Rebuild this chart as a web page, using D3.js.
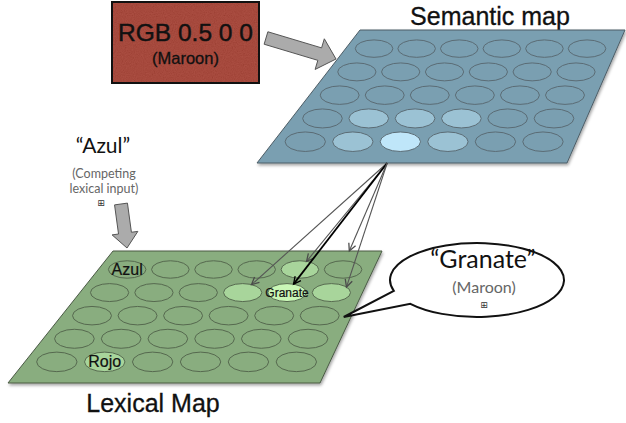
<!DOCTYPE html>
<html><head><meta charset="utf-8">
<script src="https://cdn.jsdelivr.net/npm/d3@7"></script>
<style>html,body{margin:0;padding:0;background:#fff;}svg{display:block}</style>
</head><body><svg id="c" width="626" height="423"></svg>
<script>
// ---------- data ----------
const rowIndex = [0, 1, 2, 3, 4];
const colIndex = [0, 1, 2, 3, 4, 5];
// activation level per cell: 0 = resting, 1 = partly active, 2 = most active
const semanticActivation = [
  [0, 0, 0, 0, 0, 0],
  [0, 0, 0, 0, 0, 0],
  [0, 0, 0, 0, 0, 0],
  [0, 1, 1, 1, 0, 0],
  [0, 1, 2, 1, 0, 0]
];
const lexicalActivation = [
  [0, 0, 0, 0, 1, 0],
  [0, 0, 0, 1, 2, 1],
  [0, 0, 0, 0, 0, 0],
  [0, 0, 0, 0, 0, 0],
  [0, 1, 0, 0, 0, 0]
];
const lexicalLabels = [
  { row: 0, col: 0, text: "Azul", big: true },
  { row: 1, col: 4, text: "Granate", big: false },
  { row: 4, col: 1, text: "Rojo", big: true }
];
const connections = [
  { row: 1, col: 3, strong: false },
  { row: 0, col: 4, strong: false },
  { row: 1, col: 4, strong: true },
  { row: 1, col: 5, strong: false, stopAtEdge: true },
  { row: 1, col: 5, strong: false, anchor: -38 }
];
const inputText = ["RGB 0.5 0 0", "(Maroon)"];
const competitorText = ["\u201CAzul\u201D", "(Competing", "lexical input)"];
const outputText = ["\u201CGranate\u201D", "(Maroon)"];
const titles = { semantic: "Semantic map", lexical: "Lexical Map" };

// ---------- layout ----------
const semQuad = { tl: [360, 30], tr: [625, 30], br: [567, 163], bl: [257, 163] };
const lexQuad = { tl: [113, 251], tr: [382, 251], br: [320, 383], bl: [8, 383] };
const vScale = d3.scaleLinear().domain([0, 4]).range([0.14, 0.84]);
const uScale = d3.scaleLinear().domain([0, 5]).range([0.105, 0.89]);

const lerp = (a, b, t) => [a[0] + (b[0] - a[0]) * t, a[1] + (b[1] - a[1]) * t];
function quadPoint(q, u, v) { return lerp(lerp(q.tl, q.tr, u), lerp(q.bl, q.br, u), v); }
function cell(q, r, c) {
  const v = vScale(r), u = uScale(c);
  const p = quadPoint(q, u, v);
  return { x: p[0], y: p[1], rx: 18.5 + 2 * v, ry: 8.5 + 1.5 * v };
}

const svg = d3.select("#c");
const defs = svg.append("defs");

const nf = defs.append("filter").attr("id", "noise").attr("x", 0).attr("y", 0).attr("width", "100%").attr("height", "100%");
nf.append("feTurbulence").attr("type", "fractalNoise").attr("baseFrequency", 0.9).attr("numOctaves", 2).attr("seed", 5).attr("result", "t");
nf.append("feColorMatrix").attr("in", "t").attr("type", "matrix")
  .attr("values", "0.6 0.6 0 0 -0.1  0.6 0.6 0 0 -0.1  0.6 0.6 0 0 -0.1  0 0 0 0 1").attr("result", "g");
nf.append("feComposite").attr("in", "g").attr("in2", "SourceGraphic").attr("operator", "in");

const sh = defs.append("filter").attr("id", "shadow").attr("x", "-10%").attr("y", "-10%").attr("width", "120%").attr("height", "130%");
sh.append("feDropShadow").attr("dx", 1).attr("dy", 2).attr("stdDeviation", 1.5).attr("flood-color", "#000").attr("flood-opacity", 0.35);

function marker(id, color, size) {
  defs.append("marker").attr("id", id).attr("viewBox", "-10 -6 12 12").attr("refX", 0).attr("refY", 0)
    .attr("markerWidth", size).attr("markerHeight", size).attr("markerUnits", "userSpaceOnUse").attr("orient", "auto")
    .append("path").attr("d", "M-8,-4 L0,0 L-8,4").attr("fill", "none").attr("stroke", color).attr("stroke-width", 1.4);
}
marker("mGray", "#4a4a4a", 11);
marker("mBlack", "#000", 11);

function blockArrow(tail, tip, sw, hw, hl) {
  const dx = tip[0] - tail[0], dy = tip[1] - tail[1], L = Math.hypot(dx, dy);
  const ux = dx / L, uy = dy / L, px = -uy, py = ux;
  const b = [tip[0] - ux * hl, tip[1] - uy * hl];
  const p = (o, s) => [o[0] + px * s, o[1] + py * s];
  return [p(tail, sw), p(b, sw), p(b, hw), tip, p(b, -hw), p(b, -sw), p(tail, -sw)];
}
const quadPath = q => "M" + [q.tl, q.tr, q.br, q.bl].map(p => p.join(",")).join("L") + "Z";
const helv = "Liberation Sans, Arial, sans-serif";
const heavy = s => s.attr("stroke", "#111").attr("stroke-width", 0.45);

// ---------- input box ----------
const box = { x: 112, y: 2, w: 147, h: 81 };
svg.append("rect").attr("x", box.x).attr("y", box.y).attr("width", box.w).attr("height", box.h).attr("fill", "#a3392b");
svg.append("rect").attr("x", box.x).attr("y", box.y).attr("width", box.w).attr("height", box.h).attr("fill", "#fff")
  .attr("filter", "url(#noise)").attr("opacity", 0.12);
svg.append("rect").attr("x", box.x).attr("y", box.y).attr("width", box.w).attr("height", box.h).attr("fill", "none")
  .attr("stroke", "#111").attr("stroke-width", 2);
heavy(svg.append("text").attr("x", box.x + box.w / 2).attr("y", 41).attr("text-anchor", "middle")
  .attr("font-family", helv).attr("font-size", 24.5).attr("fill", "#111").text(inputText[0]));
heavy(svg.append("text").attr("x", box.x + box.w / 2).attr("y", 64).attr("text-anchor", "middle")
  .attr("font-family", helv).attr("font-size", 16.5).attr("fill", "#111").text(inputText[1])).attr("stroke-width", 0.3);

// ---------- block arrows ----------
const arrowStyle = s => s.attr("fill", "#ababab").attr("stroke", "#555").attr("stroke-width", 1).attr("stroke-linejoin", "miter");
arrowStyle(svg.append("polygon").attr("points", blockArrow([266, 38], [336, 59], 6.5, 16, 17).join(" ")));
arrowStyle(svg.append("polygon").attr("points", blockArrow([121, 204], [127, 248], 6.5, 13, 15).join(" ")));

// ---------- semantic map ----------
heavy(svg.append("text").attr("x", 490).attr("y", 25).attr("text-anchor", "middle")
  .attr("font-family", helv).attr("font-size", 25).attr("fill", "#111").text(titles.semantic)).attr("stroke-width", 0.3);
svg.append("path").attr("d", quadPath(semQuad)).attr("fill", "#7a9fb1").attr("stroke", "#4d5d66").attr("stroke-width", 1)
  .attr("filter", "url(#shadow)");
const semFill = ["#7a9fb1", "#9bc2d4", "#bfe6f9"];
const semCells = [];
rowIndex.forEach(r => colIndex.forEach(c => semCells.push({ r, c, a: semanticActivation[r][c] })));
svg.append("g").selectAll("ellipse").data(semCells).join("ellipse")
  .each(function (d) { const e = cell(semQuad, d.r, d.c); d3.select(this).attr("cx", e.x).attr("cy", e.y).attr("rx", e.rx).attr("ry", e.ry); })
  .attr("fill", d => semFill[d.a]).attr("stroke", "#5b6c75").attr("stroke-width", 1);

// ---------- lexical map ----------
svg.append("path").attr("d", quadPath(lexQuad)).attr("fill", "#89ad7f").attr("stroke", "#4a5a45").attr("stroke-width", 1)
  .attr("filter", "url(#shadow)");
const lexFill = ["#89ad7f", "#a8d59b", "#c9f7b6"];
const lexCells = [];
rowIndex.forEach(r => colIndex.forEach(c => lexCells.push({ r, c, a: lexicalActivation[r][c] })));
svg.append("g").selectAll("ellipse").data(lexCells).join("ellipse")
  .each(function (d) { const e = cell(lexQuad, d.r, d.c); d3.select(this).attr("cx", e.x).attr("cy", e.y).attr("rx", e.rx).attr("ry", e.ry); })
  .attr("fill", d => lexFill[d.a]).attr("stroke", "#56694f").attr("stroke-width", 1);
svg.append("g").selectAll("text").data(lexicalLabels).join("text")
  .each(function (d) { const e = cell(lexQuad, d.row, d.col); d3.select(this).attr("x", e.x).attr("y", e.y + (d.big ? 5.5 : 4)); })
  .attr("text-anchor", "middle").attr("font-family", helv)
  .attr("font-size", d => d.big ? 16 : 12).attr("fill", "#111").attr("stroke", "#111").attr("stroke-width", 0.2).text(d => d.text);
heavy(svg.append("text").attr("x", 153).attr("y", 412).attr("text-anchor", "middle")
  .attr("font-family", helv).attr("font-size", 25).attr("fill", "#111").text(titles.lexical)).attr("stroke-width", 0.3);

// ---------- connections ----------
const src = quadPoint(semQuad, 0.42, 1);
svg.append("g").selectAll("line").data(connections).join("line")
  .each(function (d) {
    const e = cell(lexQuad, d.row, d.col);
    let end;
    if (d.anchor !== undefined) {
      const a = d.anchor * Math.PI / 180; end = [e.x + e.rx * Math.cos(a), e.y + e.ry * Math.sin(a)];
    } else {
      const dx = e.x - src[0], dy = e.y - src[1];
      const t = 1 / Math.sqrt((dx / e.rx) ** 2 + (dy / e.ry) ** 2);
      end = [e.x - dx * t, e.y - dy * t];
      if (d.stopAtEdge) { const tt = (lexQuad.tl[1] - src[1]) / dy; end = [src[0] + dx * tt, lexQuad.tl[1]]; }
    }
    d3.select(this).attr("x1", src[0]).attr("y1", src[1]).attr("x2", end[0]).attr("y2", end[1]);
  })
  .attr("stroke", d => d.strong ? "#000" : "#555").attr("stroke-width", d => d.strong ? 1.8 : 1.1)
  .attr("marker-end", d => d.strong ? "url(#mBlack)" : "url(#mGray)");

// ---------- competitor label ----------
const calFont = "Lato, 'Open Sans', sans-serif";
svg.append("text").attr("x", 103).attr("y", 153).attr("text-anchor", "middle").attr("font-family", calFont)
  .attr("font-size", 21).attr("fill", "#111").text(competitorText[0]);
svg.append("text").attr("x", 104).attr("y", 178).attr("text-anchor", "middle").attr("font-family", calFont)
  .attr("font-size", 12.5).attr("fill", "#666").text(competitorText[1]);
svg.append("text").attr("x", 104).attr("y", 193).attr("text-anchor", "middle").attr("font-family", calFont)
  .attr("font-size", 12.5).attr("fill", "#666").text(competitorText[2]);
svg.append("text").attr("x", 101).attr("y", 206).attr("text-anchor", "middle").attr("font-family", "DejaVu Sans")
  .attr("font-size", 9).attr("fill", "#333").text("\u229E");

// ---------- speech bubble ----------
const bub = { cx: 477, cy: 280, rx: 87, ry: 37 };
const ang = d => d * Math.PI / 180;
const bp = d => [bub.cx + bub.rx * Math.cos(ang(d)), bub.cy + bub.ry * Math.sin(ang(d))];
const tip = quadPoint(lexQuad, 0.975, 0.5);
const A = bp(163), B = bp(140);
svg.append("path")
  .attr("d", `M${A[0]},${A[1]} A${bub.rx},${bub.ry} 0 1 1 ${B[0]},${B[1]} L${tip[0]},${tip[1]} Z`)
  .attr("fill", "#fff").attr("stroke", "#111").attr("stroke-width", 2).attr("stroke-linejoin", "miter");
svg.append("text").attr("x", 483).attr("y", 268).attr("text-anchor", "middle").attr("font-family", calFont)
  .attr("font-size", 25).attr("fill", "#111").text(outputText[0]);
svg.append("text").attr("x", 484).attr("y", 293).attr("text-anchor", "middle").attr("font-family", calFont)
  .attr("font-size", 16).attr("fill", "#666").text(outputText[1]);
svg.append("text").attr("x", 484).attr("y", 308).attr("text-anchor", "middle").attr("font-family", "DejaVu Sans")
  .attr("font-size", 9).attr("fill", "#333").text("\u229E");
</script></body></html>
